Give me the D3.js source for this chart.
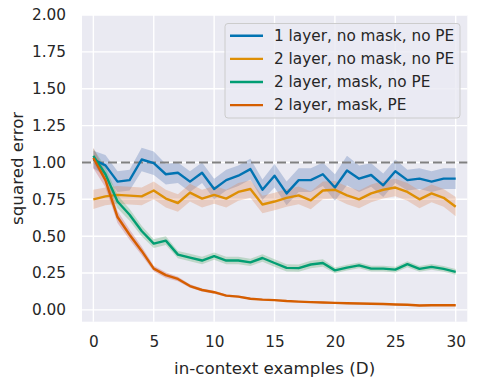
<!DOCTYPE html>
<html>
<head>
<meta charset="utf-8">
<script src="https://cdn.jsdelivr.net/npm/d3@7"></script>
<style>
  body { margin: 0; background: #fff; }
  text { font-family: "DejaVu Sans", sans-serif; fill: #262626; }
</style>
</head>
<body>
<script>
// in-context examples
const xs = [0,1,2,3,4,5,6,7,8,9,10,11,12,13,14,15,16,17,18,19,20,21,22,23,24,25,26,27,28,29,30];

const seriesNames = ["1 layer, no mask, no PE", "2 layer, no mask, no PE", "2 layer, mask, no PE", "2 layer, mask, PE"];

const oneLayer = [1.02,0.98,0.87,0.88,1.02,0.995,0.92,0.93,0.87,0.93,0.82,0.88,0.91,0.955,0.815,0.91,0.79,0.88,0.88,0.92,0.83,0.945,0.89,0.915,0.845,0.94,0.88,0.89,0.87,0.89,0.89];
const oneLayerCi = [0.06,0.07,0.07,0.07,0.08,0.08,0.07,0.07,0.07,0.07,0.07,0.07,0.07,0.07,0.07,0.08,0.08,0.08,0.08,0.08,0.09,0.1,0.09,0.08,0.08,0.08,0.07,0.07,0.07,0.07,0.07];

const twoLayer = [0.75,0.77,0.78,0.775,0.77,0.81,0.755,0.725,0.795,0.755,0.78,0.755,0.80,0.82,0.715,0.735,0.76,0.777,0.743,0.81,0.815,0.777,0.75,0.79,0.815,0.83,0.80,0.75,0.79,0.76,0.70];
const twoLayerCi = [0.065,0.06,0.06,0.06,0.06,0.06,0.06,0.06,0.06,0.06,0.06,0.06,0.06,0.06,0.06,0.06,0.06,0.06,0.06,0.06,0.06,0.06,0.06,0.06,0.06,0.06,0.06,0.06,0.06,0.06,0.065];

const maskNoPe = [1.045,0.92,0.735,0.645,0.535,0.45,0.47,0.375,0.355,0.335,0.365,0.335,0.335,0.322,0.352,0.318,0.285,0.283,0.308,0.318,0.268,0.287,0.302,0.28,0.28,0.273,0.31,0.278,0.292,0.278,0.258];
const maskNoPeCi = [0.05,0.05,0.045,0.04,0.035,0.03,0.03,0.025,0.025,0.025,0.025,0.025,0.025,0.025,0.025,0.025,0.025,0.025,0.025,0.025,0.02,0.02,0.02,0.02,0.02,0.02,0.02,0.02,0.02,0.02,0.02];

const maskPe = [1.03,0.88,0.63,0.51,0.40,0.28,0.236,0.21,0.162,0.135,0.12,0.097,0.09,0.076,0.07,0.066,0.06,0.056,0.053,0.05,0.048,0.045,0.043,0.042,0.04,0.037,0.035,0.03,0.032,0.032,0.032];
const maskPeCi = [0.07,0.05,0.04,0.035,0.03,0.02,0.02,0.015,0.012,0.01,0.01,0.008,0.008,0.006,0.006,0.005,0.005,0.005,0.005,0.005,0.005,0.005,0.005,0.005,0.005,0.005,0.005,0.005,0.005,0.005,0.005];

const xTicks = [0,5,10,15,20,25,30];
const yTicks = [0,0.25,0.5,0.75,1,1.25,1.5,1.75,2];

const lineColors = ["#0173b2","#de8f05","#029e73","#d55e00"];
const bandColors = ["#4c72b0","#dd8452","#55a868","#c44e52"];

const W = 477, H = 385;
const pLeft = 82, pTop = 15, pRight = 467.3, pBottom = 321.7;

const svg = d3.select("body").append("svg")
  .attr("width", W)
  .attr("height", H);

const x = d3.scaleLinear().domain([-0.94, 30.96]).range([pLeft, pRight]);
const y = d3.scaleLinear().domain([-0.08, 2.0]).range([pBottom, pTop]);

// plot background
svg.append("rect")
  .attr("x", pLeft).attr("y", pTop)
  .attr("width", pRight - pLeft).attr("height", pBottom - pTop)
  .attr("fill", "#eaeaf2");

// grid
svg.append("g").selectAll("line")
  .data(xTicks).enter().append("line")
  .attr("x1", d => x(d)).attr("x2", d => x(d))
  .attr("y1", pTop).attr("y2", pBottom)
  .attr("stroke", "#fff").attr("stroke-width", 1.4);

svg.append("g").selectAll("line")
  .data(yTicks).enter().append("line")
  .attr("x1", pLeft).attr("x2", pRight)
  .attr("y1", d => y(d)).attr("y2", d => y(d))
  .attr("stroke", "#fff").attr("stroke-width", 1.4);

// axes (no domain, no tick marks)
const xAxis = svg.append("g")
  .attr("transform", `translate(0,${pBottom})`)
  .call(d3.axisBottom(x).tickValues(xTicks).tickSize(0).tickPadding(14));
const yAxis = svg.append("g")
  .attr("transform", `translate(${pLeft},0)`)
  .call(d3.axisLeft(y).tickValues(yTicks).tickFormat(d3.format(".2f")).tickSize(0).tickPadding(16));
[xAxis, yAxis].forEach(a => {
  a.select(".domain").remove();
  a.selectAll("text").attr("font-size", "15.3px").attr("fill", "#262626")
    .attr("font-family", "DejaVu Sans, sans-serif");
});

const seriesVals = [oneLayer, twoLayer, maskNoPe, maskPe];
const seriesCis = [oneLayerCi, twoLayerCi, maskNoPeCi, maskPeCi];

const area = d3.area()
  .x(d => x(d.x))
  .y0(d => y(d.v - d.c))
  .y1(d => y(d.v + d.c));

const line = d3.line()
  .x(d => x(d.x))
  .y(d => y(d.v));

const series = seriesVals.map((vals, i) => xs.map((xv, j) => ({ x: xv, v: vals[j], c: seriesCis[i][j] })));

series.forEach((s, i) => {
  svg.append("path")
    .datum(s)
    .attr("d", area)
    .attr("fill", bandColors[i])
    .attr("fill-opacity", 0.3);
});

// reference line at 1
svg.append("line")
  .attr("x1", pLeft).attr("x2", pRight)
  .attr("y1", y(1)).attr("y2", y(1))
  .attr("stroke", "#808080")
  .attr("stroke-width", 2)
  .attr("stroke-dasharray", "9,4");

series.forEach((s, i) => {
  svg.append("path")
    .datum(s)
    .attr("d", line)
    .attr("fill", "none")
    .attr("stroke", lineColors[i])
    .attr("stroke-width", 2.4)
    .attr("stroke-linejoin", "round");
});

// legend
const lg = svg.append("g");
lg.append("rect")
  .attr("x", 225).attr("y", 23.5)
  .attr("width", 235).attr("height", 94.5)
  .attr("rx", 3)
  .attr("fill", "#eaeaf2").attr("fill-opacity", 0.8)
  .attr("stroke", "#cccccc").attr("stroke-width", 1);

seriesNames.forEach((name, i) => {
  const ry = 35.8 + i * 23.1;
  lg.append("line")
    .attr("x1", 230).attr("x2", 263)
    .attr("y1", ry).attr("y2", ry)
    .attr("stroke", lineColors[i]).attr("stroke-width", 2.4);
  lg.append("text")
    .attr("x", 274).attr("y", ry + 5.3)
    .attr("font-size", "15.3px")
    .text(name);
});

// axis labels
svg.append("text")
  .attr("x", (pLeft + pRight) / 2)
  .attr("y", 374)
  .attr("text-anchor", "middle")
  .attr("font-size", "16.7px")
  .text("in-context examples (D)");

svg.append("text")
  .attr("text-anchor", "middle")
  .attr("font-size", "16.7px")
  .attr("transform", `translate(23,${(pTop + pBottom) / 2}) rotate(-90)`)
  .text("squared error");
</script>
</body>
</html>
